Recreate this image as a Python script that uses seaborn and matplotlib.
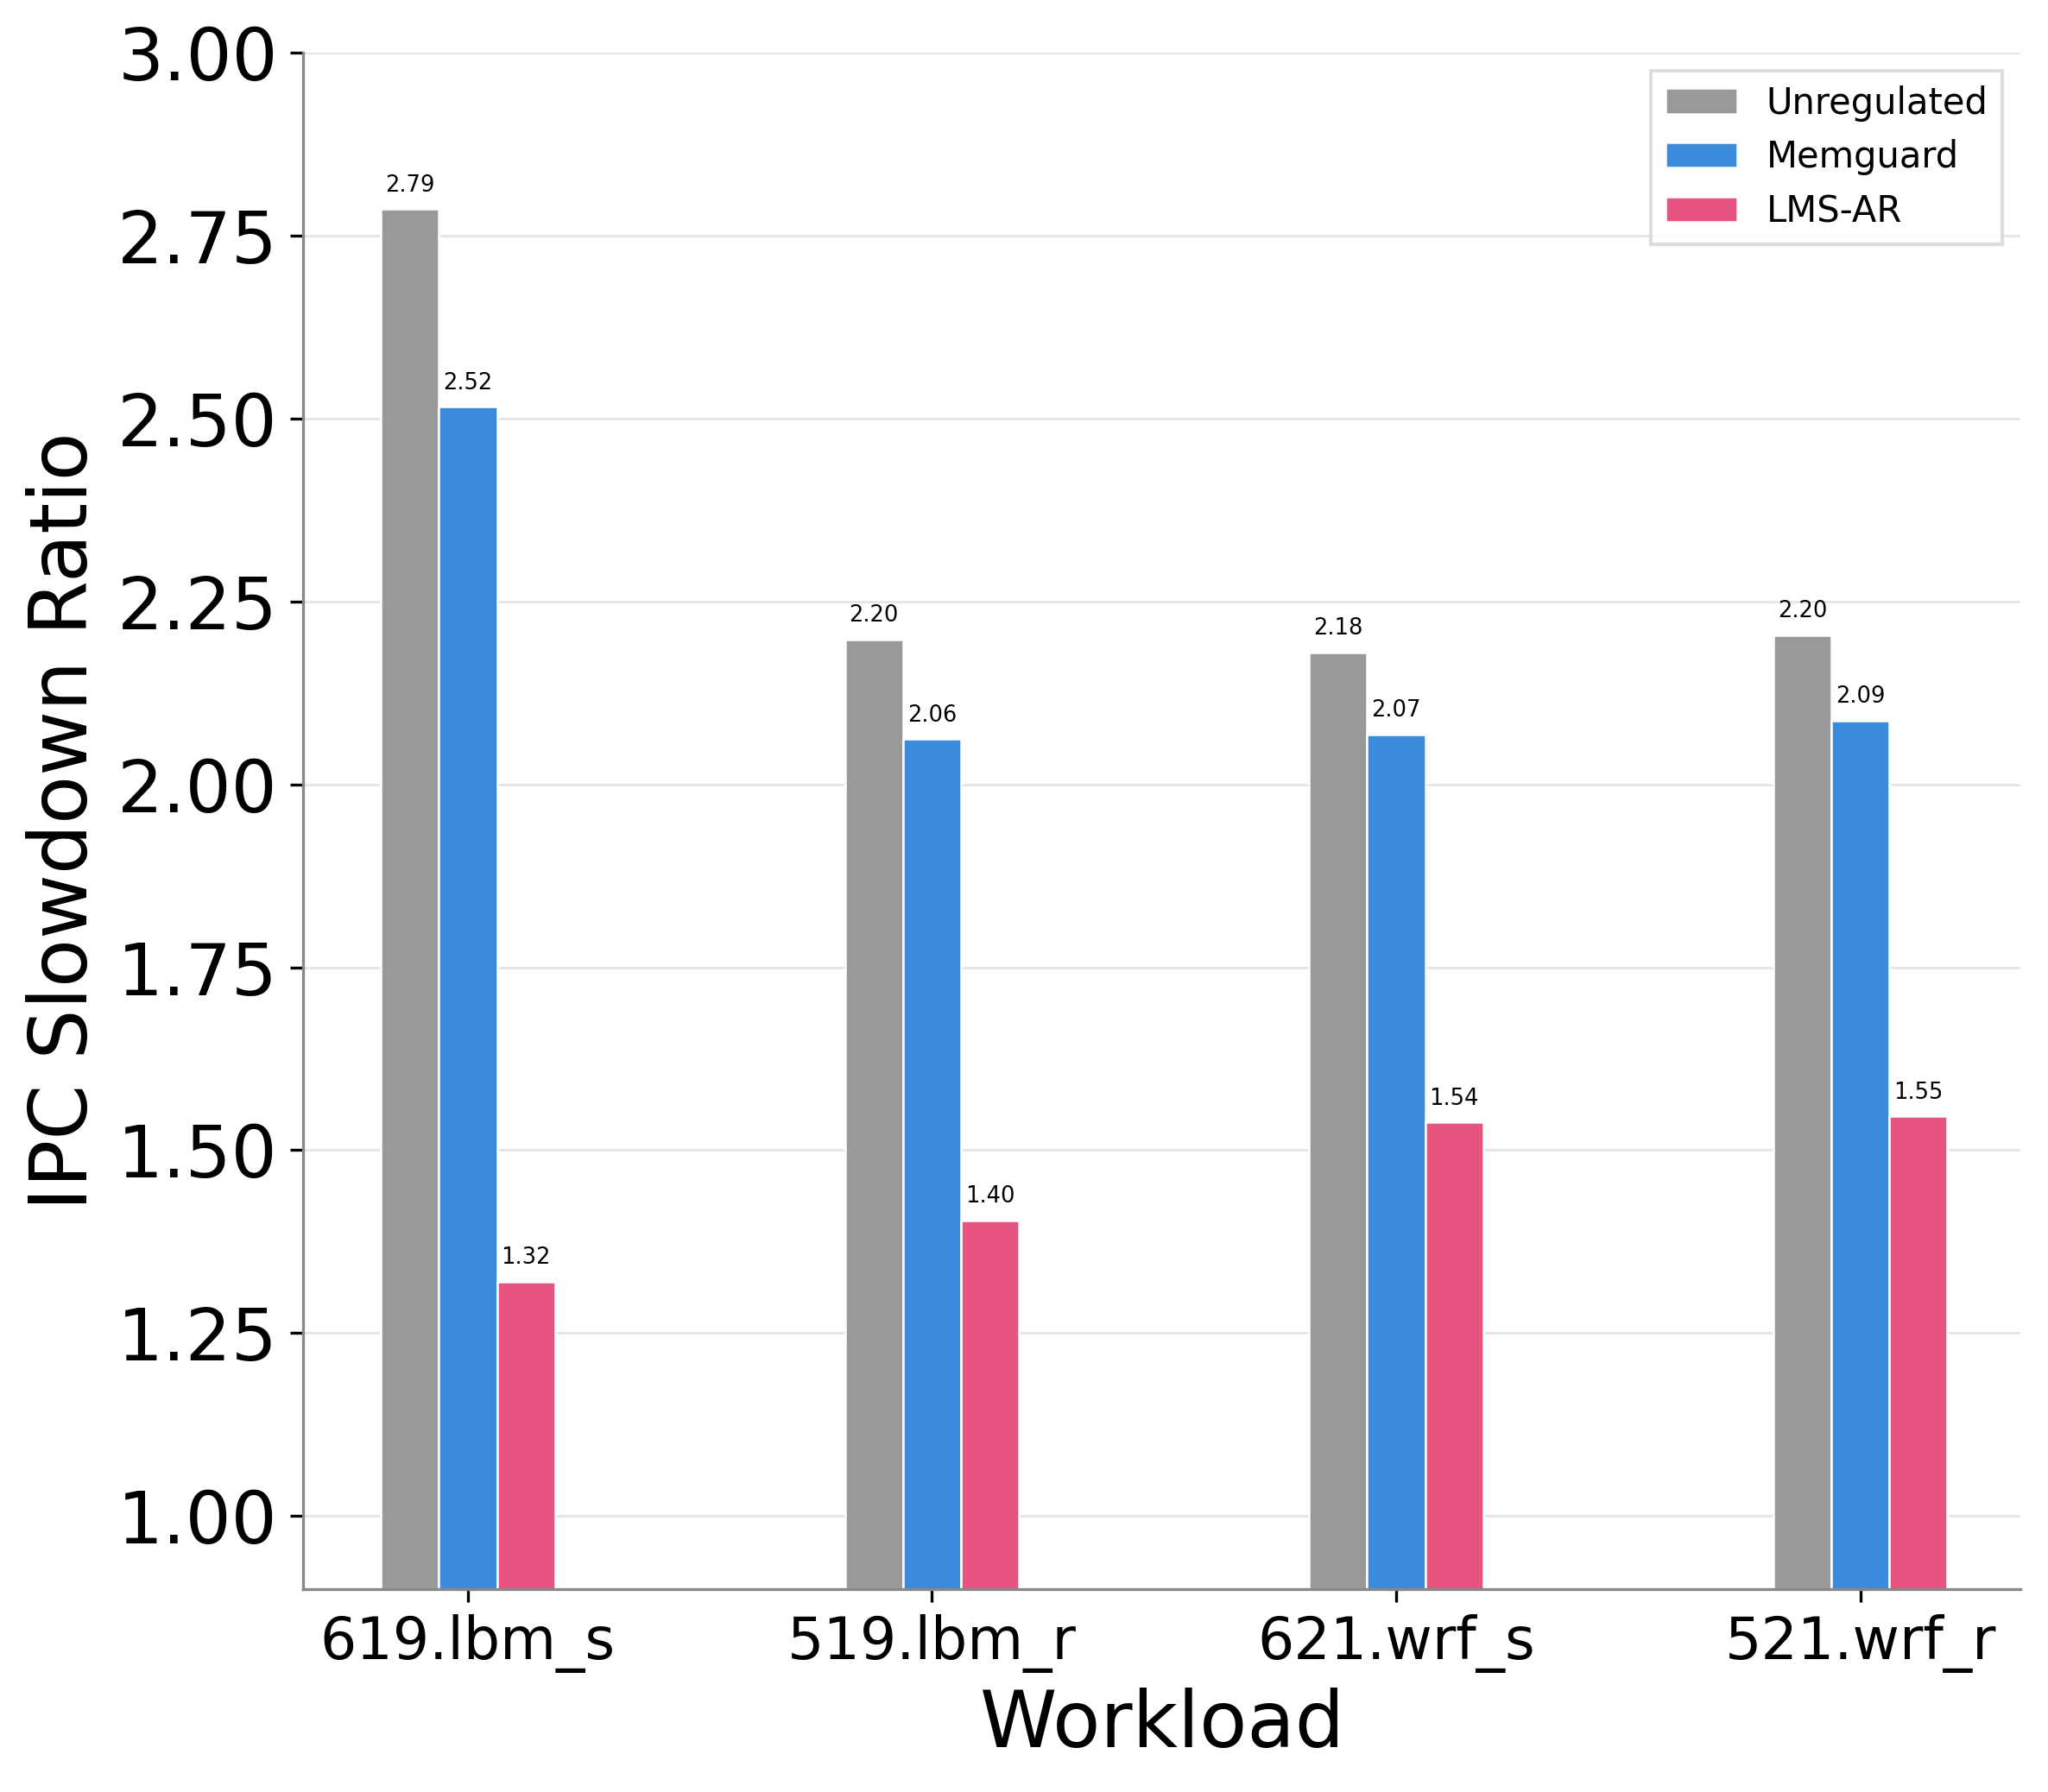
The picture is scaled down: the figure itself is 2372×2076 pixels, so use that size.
import pandas as pd
import seaborn as sns
import matplotlib.pyplot as plt

# Data
workloads = ["619.lbm_s", "519.lbm_r", "621.wrf_s", "521.wrf_r"]
unregulated = [2.786, 2.198, 2.180, 2.204]
memguard = [2.516, 2.062, 2.068, 2.087]
lms_ar = [1.320, 1.404, 1.538, 1.546]
methods = ["Unregulated", "Memguard", "LMS-AR"]
colors = ["#999999", "#3a8bdd", "#e75480"]

rows = []
for method, vals in zip(methods, [unregulated, memguard, lms_ar]):
    for w, v in zip(workloads, vals):
        rows.append({"Workload": w, "Method": method, "Ratio": v})
df = pd.DataFrame(rows)

sns.set_style("white")
plt.rcParams["text.color"] = "black"
plt.rcParams["axes.labelcolor"] = "black"
plt.rcParams["xtick.color"] = "black"
plt.rcParams["ytick.color"] = "black"

fig, ax = plt.subplots(figsize=(7.907, 6.92), dpi=300)
fig.subplots_adjust(left=0.148, right=0.9865, top=0.9706, bottom=0.1132)

sns.barplot(
    data=df, x="Workload", y="Ratio", hue="Method",
    order=workloads, hue_order=methods, palette=colors,
    width=0.375, saturation=1, edgecolor="white", linewidth=0.6, ax=ax,
)

# value labels on top of each bar
for cont in ax.containers:
    ax.bar_label(cont, fmt="%.2f", padding=3.5, fontsize=6.2, color="black")

ax.set_ylim(0.9, 3.0)
ax.set_xlim(-0.355, 3.345)
ax.set_yticks([1.0, 1.25, 1.5, 1.75, 2.0, 2.25, 2.5, 2.75, 3.0])
ax.set_yticklabels([f"{t:.2f}" for t in ax.get_yticks()])
ax.grid(axis="y", color="#e6e6e6", linewidth=0.7)
ax.set_axisbelow(True)

for side in ["top", "right"]:
    ax.spines[side].set_visible(False)
for side in ["left", "bottom"]:
    ax.spines[side].set_color("#888888")
    ax.spines[side].set_linewidth(0.8)

ax.tick_params(axis="y", labelsize=20, length=3.5, width=0.8, color="black", left=True)
ax.tick_params(axis="x", labelsize=16, length=3.5, width=0.8, color="black", bottom=True)
ax.set_xlabel("Workload", fontsize=21.7, color="black")
ax.set_ylabel("IPC Slowdown Ratio", fontsize=22, color="black")

leg = ax.legend(loc="upper right", fontsize=10, fancybox=False, title=None)
leg.get_frame().set_edgecolor("#d5d5d5")
leg.get_frame().set_linewidth(1.0)
for t in leg.get_texts():
    t.set_color("black")

plt.savefig("out.png", dpi=300)
